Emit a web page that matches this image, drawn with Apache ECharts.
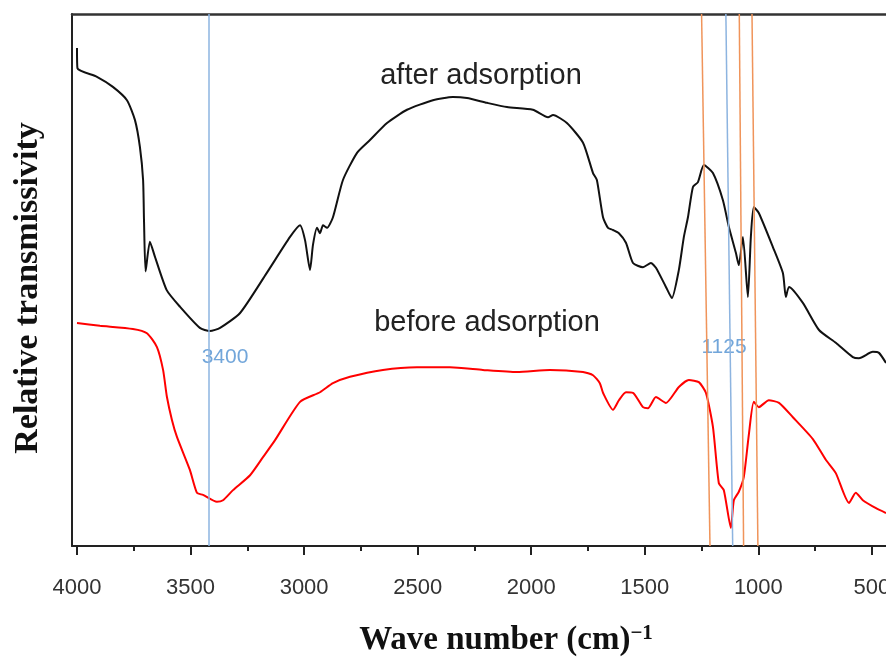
<!DOCTYPE html>
<html>
<head>
<meta charset="utf-8">
<script src="https://cdn.jsdelivr.net/npm/echarts@6/dist/echarts.min.js"></script>
<style>
html,body{margin:0;padding:0;background:#fff}
#main{width:886px;height:657px}
</style>
</head>
<body>
<div id="main"></div>
<script>
// wave number (cm-1) and relative transmissivity (arbitrary units)
const afterWave = [4000, 3998, 3912, 3842, 3780, 3745, 3723, 3709, 3705, 3698, 3679, 3657, 3605, 3547, 3459, 3415, 3370, 3282, 3165, 3062, 3018, 2996, 2974, 2961, 2943, 2930, 2917, 2899, 2873, 2829, 2767, 2710, 2635, 2547, 2433, 2345, 2283, 2195, 2107, 1993, 1926, 1904, 1843, 1772, 1728, 1711, 1684, 1662, 1640, 1614, 1583, 1552, 1508, 1473, 1451, 1407, 1381, 1350, 1328, 1310, 1288, 1266, 1240, 1200, 1156, 1130, 1099, 1086, 1068, 1046, 1033, 1020, 998, 936, 892, 879, 865, 804, 733, 659, 584, 557, 496, 469, 438];
const afterVal = [93.6, 89.8, 88.2, 86.3, 83.8, 80.1, 75.0, 68.8, 61.3, 51.6, 57.2, 54.4, 48.1, 45.0, 41.0, 40.4, 41.0, 43.8, 51.3, 58.1, 60.3, 57.5, 51.9, 56.6, 59.8, 58.8, 60.3, 59.8, 61.8, 68.8, 73.9, 76.3, 79.5, 82.0, 83.8, 84.4, 84.2, 83.3, 82.5, 82.0, 80.6, 81.0, 79.5, 75.8, 70.1, 68.8, 61.8, 59.8, 59.4, 58.8, 57.0, 53.2, 52.4, 53.2, 52.3, 48.7, 46.6, 51.9, 58.1, 61.8, 67.5, 68.4, 71.6, 70.1, 65.0, 60.0, 55.1, 52.8, 58.1, 46.8, 58.1, 63.7, 62.6, 56.2, 51.3, 46.8, 48.7, 45.7, 40.6, 38.2, 35.5, 35.3, 36.5, 36.3, 34.4];

const beforeWave = [4000, 3899, 3754, 3692, 3648, 3621, 3604, 3582, 3560, 3503, 3472, 3445, 3384, 3357, 3313, 3238, 3181, 3128, 3018, 2930, 2873, 2798, 2653, 2503, 2358, 2213, 2063, 1918, 1772, 1728, 1698, 1684, 1640, 1614, 1583, 1552, 1508, 1486, 1451, 1407, 1350, 1306, 1262, 1231, 1200, 1174, 1152, 1121, 1108, 1086, 1064, 1042, 1020, 998, 954, 909, 848, 760, 703, 659, 601, 571, 540, 482, 438];
const beforeVal = [41.9, 41.4, 40.8, 40.0, 37.4, 33.1, 28.0, 23.7, 20.5, 14.3, 10.0, 9.6, 8.3, 8.6, 10.5, 13.3, 16.7, 19.9, 27.1, 28.9, 30.6, 31.8, 33.1, 33.6, 33.6, 33.1, 32.7, 33.1, 32.7, 32.1, 30.6, 28.8, 25.6, 27.4, 28.9, 28.8, 26.1, 25.9, 28.0, 26.9, 29.9, 31.2, 30.8, 28.8, 22.4, 11.8, 10.5, 3.4, 8.6, 10.2, 13.0, 20.9, 27.1, 26.1, 27.4, 26.9, 24.2, 20.1, 16.2, 13.7, 8.1, 10.0, 8.6, 7.1, 6.2];

const tickValues = [4000, 3500, 3000, 2500, 2000, 1500, 1000, 500];
const minorTickValues = [3750, 3250, 2750, 2250, 1750, 1250, 750];

// hand drawn guide lines: [wave number at top, wave number at bottom]
const blueLines = [[3419, 3419], [1143, 1113]];
const orangeLines = [[1250, 1213], [1084, 1065], [1028, 1002]];

const xMin = 438, xMax = 4022;

const myChart = echarts.init(document.getElementById('main'));

const toPairs = (w, v) => w.map((x, i) => [x, v[i]]);
const guide = (lines, color) => lines.map(l => [
    {coord: [l[0], 100], lineStyle: {color: color, width: 1.5, type: 'solid'}},
    {coord: [l[1], 0]}
]);

const option = {
    animation: false,
    grid: [
        {left: 72, right: 0, top: 14, bottom: 111, containLabel: false, outerBoundsMode: 'none'},
        {left: 72, right: 0, top: 14, bottom: 111, containLabel: false, outerBoundsMode: 'none'}
    ],
    xAxis: [
        {
            type: 'value', gridIndex: 0, position: 'bottom',
            min: xMin, max: xMax, inverse: true,
            axisLine: {lineStyle: {color: '#222', width: 2}},
            axisTick: {customValues: tickValues, length: 9, lineStyle: {color: '#222', width: 2}},
            axisLabel: {customValues: tickValues, margin: 31, fontSize: 22, color: '#333', fontFamily: 'Liberation Sans', formatter: v => String(v)},
            splitLine: {show: false}
        },
        {
            type: 'value', gridIndex: 0, position: 'top',
            min: xMin, max: xMax, inverse: true,
            axisLine: {lineStyle: {color: '#333', width: 2.5}},
            axisTick: {show: false}, axisLabel: {show: false}, splitLine: {show: false}
        },
        {
            // minor ticks
            type: 'value', gridIndex: 1, position: 'bottom',
            min: xMin, max: xMax, inverse: true,
            axisLine: {show: false},
            axisTick: {customValues: minorTickValues, length: 5, lineStyle: {color: '#222', width: 2}},
            axisLabel: {show: false}, splitLine: {show: false}
        }
    ],
    yAxis: [
        {
            type: 'value', gridIndex: 0, min: 0, max: 100,
            axisLine: {show: true, lineStyle: {color: '#222', width: 2}},
            axisTick: {show: false}, axisLabel: {show: false}, splitLine: {show: false}
        },
        {type: 'value', gridIndex: 1, min: 0, max: 100, show: false}
    ],
    series: [
        {
            name: 'guides', type: 'line', xAxisIndex: 0, yAxisIndex: 0, data: [],
            markLine: {
                silent: true, symbol: ['none', 'none'], label: {show: false},
                data: guide(blueLines, '#8db4e0').concat(guide(orangeLines, '#f0945a'))
            },
            z: 1
        },
        {
            name: 'after adsorption', type: 'line', xAxisIndex: 0, yAxisIndex: 0,
            data: toPairs(afterWave, afterVal),
            showSymbol: false, smooth: 0.2,
            lineStyle: {color: '#111', width: 2}, z: 3
        },
        {
            name: 'before adsorption', type: 'line', xAxisIndex: 0, yAxisIndex: 0,
            data: toPairs(beforeWave, beforeVal),
            showSymbol: false, smooth: 0.2,
            lineStyle: {color: '#ff0000', width: 2}, z: 3
        }
    ],
    graphic: [
        {type: 'text', x: 481, y: 76, style: {text: 'after adsorption', fontSize: 29, fontFamily: 'Liberation Sans', fill: '#222', align: 'center', verticalAlign: 'middle'}},
        {type: 'text', x: 487, y: 323, style: {text: 'before adsorption', fontSize: 29, fontFamily: 'Liberation Sans', fill: '#222', align: 'center', verticalAlign: 'middle'}},
        {type: 'text', x: 225, y: 357, style: {text: '3400', fontSize: 21, fontFamily: 'Liberation Sans', fill: '#72a6da', align: 'center', verticalAlign: 'middle'}},
        {type: 'text', x: 724, y: 347, style: {text: '1125', fontSize: 21, fontFamily: 'Liberation Sans', fill: '#72a6da', align: 'center', verticalAlign: 'middle'}},
        {type: 'text', x: 28, y: 288, rotation: Math.PI / 2, style: {text: 'Relative transmissivity', fontSize: 34, fontWeight: 'bold', fontFamily: 'Liberation Serif', fill: '#111', align: 'center', verticalAlign: 'middle'}},
        {
            type: 'text', x: 506, y: 640,
            style: {
                text: '{a|Wave number (cm)}{b|−1}', align: 'center', verticalAlign: 'middle',
                rich: {
                    a: {fontSize: 33, fontWeight: 'bold', fontFamily: 'Liberation Serif', fill: '#111'},
                    b: {fontSize: 21, fontWeight: 'bold', fontFamily: 'Liberation Serif', fill: '#111', verticalAlign: 'top'}
                }
            }
        }
    ]
};

myChart.setOption(option);
</script>
</body>
</html>
